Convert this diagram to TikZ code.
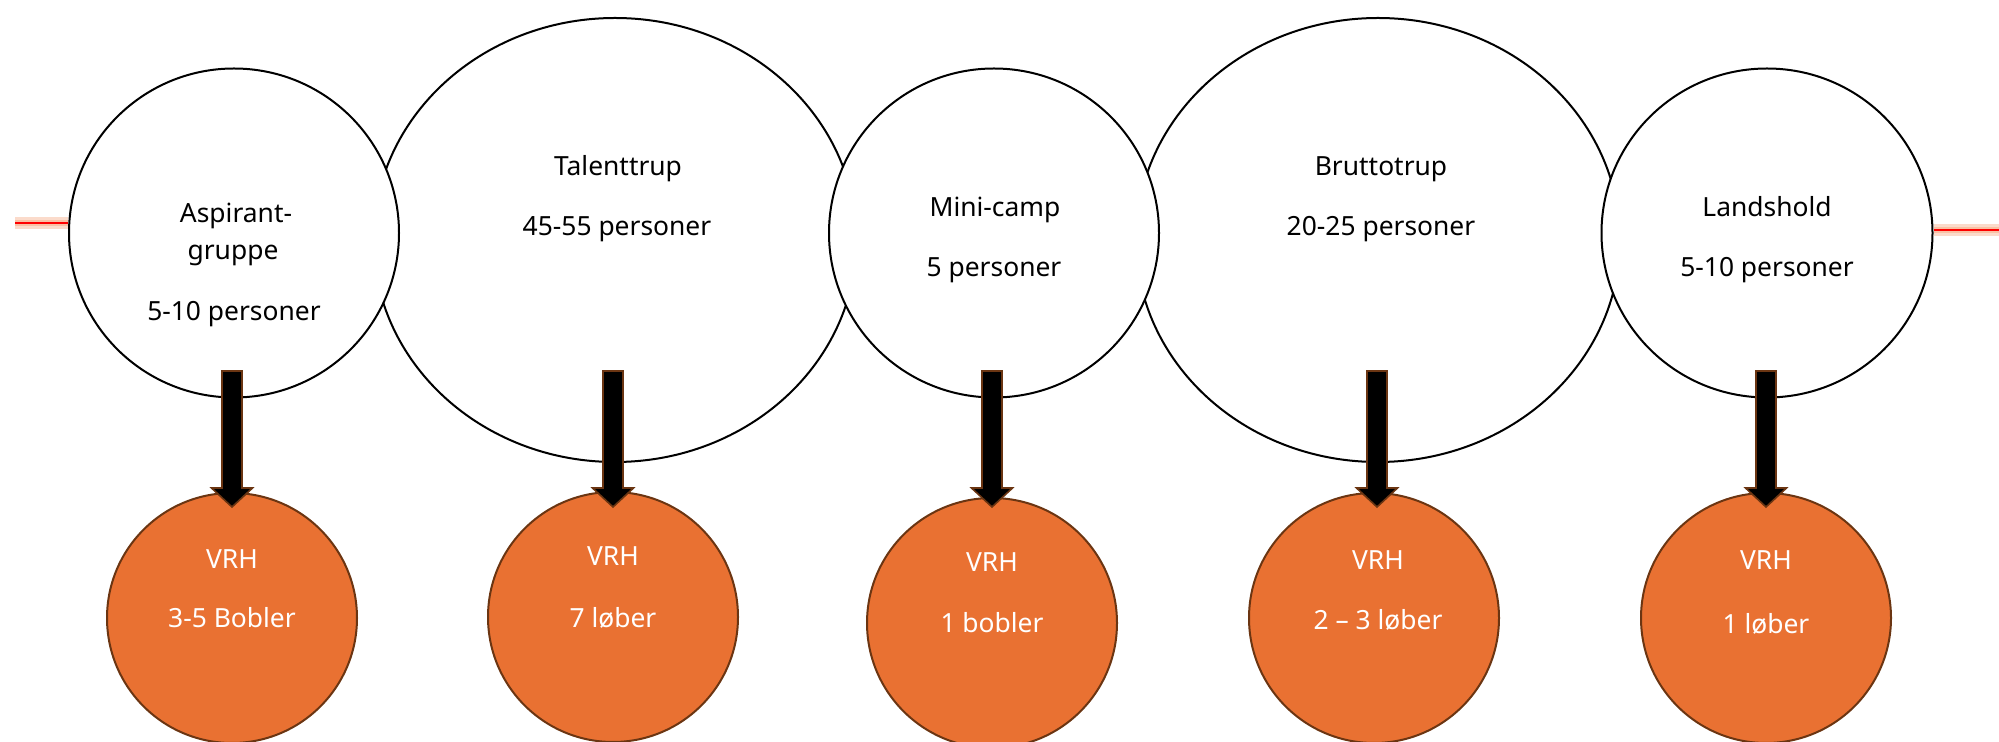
\documentclass[tikz,border=0pt]{standalone}
\usepackage{fontspec}
\setmainfont{Noto Sans}
\usetikzlibrary{shapes.geometric,calc}
\definecolor{vrhorange}{HTML}{E97132}
\definecolor{vrhbrown}{HTML}{6B3512}
\definecolor{glow}{HTML}{F7B08C}
\tikzset{
  groupbox/.style={ellipse,draw=black,line width=1pt,fill=white,inner sep=0pt},
  vrhbox/.style={circle,draw=vrhbrown,line width=1pt,fill=vrhorange,inner sep=0pt,minimum size=125pt},
  blacktxt/.style={anchor=base,text=black,font=\fontsize{13.2pt}{15pt}\selectfont,inner sep=0pt},
  whitetxt/.style={anchor=base,text=white,font=\fontsize{13.2pt}{15pt}\selectfont,inner sep=0pt},
  blockarrow/.style={fill=black,draw=vrhbrown,line width=0.8pt,line join=miter},
  redline/.style={draw=red,line width=0.8pt},
  glowline/.style={draw=glow,line width=6pt,opacity=0.45},
  glowline2/.style={draw=glow,line width=3pt,opacity=0.6}
}
\begin{document}
\begin{tikzpicture}[x=0.5pt,y=-0.5pt]
\useasboundingbox (0,0) rectangle (1999,742);
% big ellipses first
\node[groupbox,minimum width=241.5pt,minimum height=222pt] (tal) at (615,240) {};
\node[groupbox,minimum width=242pt,minimum height=222pt] (brut) at (1378,240) {};
% small circles on top
\node[groupbox,minimum width=165pt,minimum height=164.5pt] (asp) at (234,233) {};
\node[groupbox,minimum width=165pt,minimum height=164.5pt] (mini) at (994,233) {};
\node[groupbox,minimum width=165.5pt,minimum height=164.5pt] (land) at (1767,233) {};
% red lines
\coordinate (lstart) at (15,223);
\coordinate (rend) at (1999,230);
\draw[glowline] (lstart) -- (lstart -| asp.west);
\draw[glowline2] (lstart) -- (lstart -| asp.west);
\draw[redline] (lstart) -- (lstart -| asp.west);
\draw[glowline] (land.east |- rend) -- (rend);
\draw[glowline2] (land.east |- rend) -- (rend);
\draw[redline] (land.east |- rend) -- (rend);
% texts
\node[blacktxt] (t1a) at (236,223) {Aspirant-};
\node[blacktxt] (t1b) at (233,260) {gruppe};
\node[blacktxt] (t1c) at (234,321) {5-10 personer};
\node[blacktxt] (t2a) at (618,176) {Talenttrup};
\node[blacktxt] (t2b) at (617,236) {45-55 personer};
\node[blacktxt] (t3a) at (995,216.5) {Mini-camp};
\node[blacktxt] (t3b) at (994,277) {5 personer};
\node[blacktxt] (t4a) at (1381,176) {Bruttotrup};
\node[blacktxt] (t4b) at (1381,236) {20-25 personer};
\node[blacktxt] (t5a) at (1767,216.5) {Landshold};
\node[blacktxt] (t5b) at (1767,277) {5-10 personer};
% orange circles
\node[vrhbox] (v1) at (232,618) {};
\node[vrhbox] (v2) at (613,617) {};
\node[vrhbox] (v3) at (992,623) {};
\node[vrhbox] (v4) at (1374,618) {};
\node[vrhbox] (v5) at (1766,618) {};
\node[whitetxt] (w1a) at (232,569) {VRH};
\node[whitetxt] (w1b) at (232,628) {3-5 Bobler};
\node[whitetxt] (w2a) at (613,566) {VRH};
\node[whitetxt] (w2b) at (613,628) {7 løber};
\node[whitetxt] (w3a) at (992,572) {VRH};
\node[whitetxt] (w3b) at (992,633) {1 bobler};
\node[whitetxt] (w4a) at (1378,570) {VRH};
\node[whitetxt] (w4b) at (1378,630) {2 – 3 løber};
\node[whitetxt] (w5a) at (1766,570) {VRH};
\node[whitetxt] (w5b) at (1766,634) {1 løber};
% block arrows
\foreach \n/\x in {1/232,2/613,3/992,4/1377,5/1766}{
  \coordinate (as\n) at (\x,371);
  \coordinate (ae\n) at (\x,507);
  \draw[blockarrow] ($(as\n)+(-10,0)$) -- ($(as\n)+(10,0)$) -- ($(ae\n)+(10,-19)$) -- ($(ae\n)+(20.5,-19)$) -- (ae\n) -- ($(ae\n)+(-20.5,-19)$) -- ($(ae\n)+(-10,-19)$) -- cycle;
}
\end{tikzpicture}
\end{document}
